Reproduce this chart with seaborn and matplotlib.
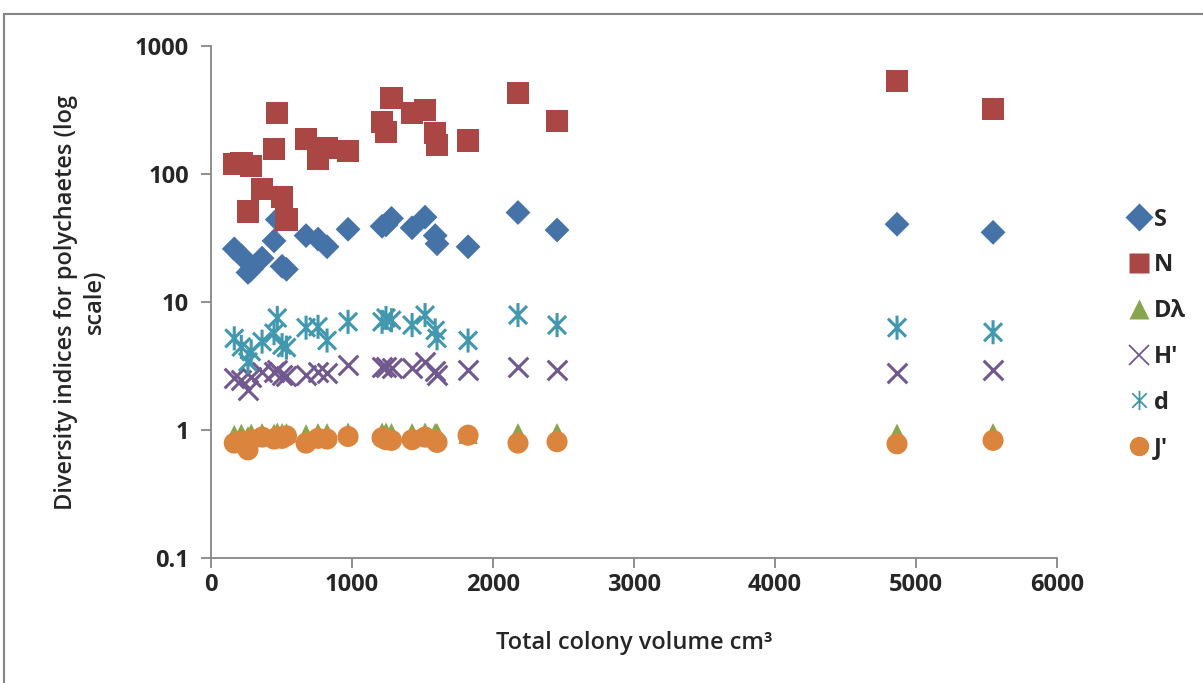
import matplotlib
matplotlib.use("Agg")
import matplotlib.pyplot as plt
from matplotlib.lines import Line2D
from matplotlib.path import Path
import seaborn as sns
import pandas as pd

# Total colony volume (cm3) of each sampled colony
volume = [165, 215, 262, 285, 362, 447, 470, 504, 535, 674, 759, 823, 972,
          1213, 1241, 1280, 1426, 1518, 1590, 1603, 1823, 2177, 2454, 4865, 5546]

# Diversity indices for polychaetes in each colony
S = [26, 23, 17, 18, 22, 30, 44, 19, 18, 33, 31, 27, 37,
     39, 40, 45, 38, 46, 33, 28.5, 27, 50, 36.5, 40.5, 35]
N = [120, 122, 51, 115, 76, 157, 300, 66, 44, 188, 131, 160, 152,
     254, 213, 392, 300, 316, 209, 168, 182, 430, 258, 534, 322]
D_lambda = [0.92, 0.94, 0.90, 0.94, 0.95, 0.94, 0.96, 0.95, 0.95, 0.93, 0.95, 0.95, 0.96,
            0.96, 0.96, 0.95, 0.95, 0.96, 0.95, 0.95, 0.93, 0.95, 0.95, 0.94, 0.95]
H_prime = [2.55, 2.46, 2.05, 2.6, 2.84, 2.84, 2.94, 2.7, 2.65, 2.7, 2.84, 2.8, 3.2,
           3.1, 3.1, 3.05, 3.05, 3.4, 2.9, 2.7, 2.94, 3.1, 2.94, 2.8, 2.94]
d = [5.2, 4.45, 3.4, 4.1, 4.9, 5.7, 7.5, 4.6, 4.4, 6.3, 6.4, 5.0, 7.0,
     7.0, 7.5, 7.2, 6.6, 7.9, 6.0, 5.2, 5.0, 7.9, 6.6, 6.3, 5.8]
J_prime = [0.79, 0.82, 0.70, 0.84, 0.88, 0.85, 0.88, 0.86, 0.90, 0.79, 0.86, 0.85, 0.89,
           0.87, 0.84, 0.83, 0.84, 0.88, 0.83, 0.80, 0.91, 0.79, 0.81, 0.78, 0.83]

series_names = ["S", "N", "Dλ", "H'", "d", "J'"]
x_ticks = [0, 1000, 2000, 3000, 4000, 5000, 6000]
y_ticks = [0.1, 1, 10, 100, 1000]
y_tick_labels = ["0.1", "1", "10", "100", "1000"]

# Asterisk: vertical bar crossed by an X
asterisk = Path(
    [(0, -1), (0, 1), (-0.75, -0.75), (0.75, 0.75), (-0.75, 0.75), (0.75, -0.75)],
    [Path.MOVETO, Path.LINETO, Path.MOVETO, Path.LINETO, Path.MOVETO, Path.LINETO],
)

styles = {
    "S":  dict(color="#4572A7", marker="D", s=160, kind="filled"),
    "N":  dict(color="#AA4643", marker="s", s=260, kind="filled"),
    "Dλ": dict(color="#89A54E", marker="^", s=200, kind="filled"),
    "H'": dict(color="#71588F", marker="x", s=200, kind="line"),
    "d":  dict(color="#4198AF", marker=asterisk, s=300, kind="path"),
    "J'": dict(color="#DB843D", marker="o", s=230, kind="filled"),
}

values = {"S": S, "N": N, "Dλ": D_lambda, "H'": H_prime, "d": d, "J'": J_prime}
frames = [pd.DataFrame({"volume": volume, "value": values[k], "index": k}) for k in series_names]
df = pd.concat(frames, ignore_index=True)

sns.set_style("white")
plt.rcParams["font.family"] = ["Open Sans", "DejaVu Sans"]

fig = plt.figure(figsize=(12.03, 6.83), dpi=100)
ax = fig.add_axes([0.1754, 0.183, 0.7033, 0.7497])

for name in series_names:
    st = styles[name]
    sub = df[df["index"] == name]
    common = dict(data=sub, x="volume", y="value", ax=ax, marker=st["marker"],
                  s=st["s"], legend=False, zorder=3)
    if st["kind"] == "filled":
        sns.scatterplot(color=st["color"], edgecolor="none", **common)
    elif st["kind"] == "line":
        sns.scatterplot(color=st["color"], linewidth=2.2, **common)
    else:
        sns.scatterplot(facecolor="none", edgecolor=st["color"], linewidth=2.2, **common)

ax.set_yscale("log")
ax.set_ylim(0.1, 1000)
ax.set_xlim(0, 6000)
ax.set_xticks(x_ticks)
ax.set_xticklabels([str(t) for t in x_ticks])
ax.set_yticks(y_ticks)
ax.set_yticklabels(y_tick_labels)
ax.yaxis.set_minor_locator(matplotlib.ticker.NullLocator())

for side in ["top", "right"]:
    ax.spines[side].set_visible(False)
for side in ["left", "bottom"]:
    ax.spines[side].set_color("#868686")
    ax.spines[side].set_linewidth(1.3)

ax.tick_params(axis="both", which="major", direction="out", length=7, width=1.3,
               color="#868686", labelsize=17, left=True, bottom=True)
ax.tick_params(axis="x", pad=4)
ax.tick_params(axis="y", pad=9)
for lbl in ax.get_xticklabels() + ax.get_yticklabels():
    lbl.set_fontweight("bold")

ax.set_xlabel("Total colony volume cm³", fontsize=17, fontweight="semibold", labelpad=24)
ax.set_ylabel("Diversity indices for polychaetes (log\nscale)", fontsize=17,
              fontweight="semibold", labelpad=20, linespacing=1.25)

# Legend
handles = []
for name in series_names:
    st = styles[name]
    if st["kind"] == "filled":
        h = Line2D([], [], linestyle="none", marker=st["marker"], markersize=14,
                   markerfacecolor=st["color"], markeredgecolor="none")
    else:
        h = Line2D([], [], linestyle="none", marker=st["marker"], markersize=14,
                   markerfacecolor="none", markeredgecolor=st["color"],
                   markeredgewidth=1.3)
    handles.append(h)
leg = fig.legend(handles, series_names, loc="upper left", bbox_to_anchor=(0.917, 0.727),
                 frameon=False, fontsize=17, handletextpad=0.05, labelspacing=0.92,
                 handlelength=1.2)
for t in leg.get_texts():
    t.set_fontweight("bold")

# Chart-area border (top and left edges)
fig.add_artist(Line2D([4 / 1203, 1.0], [1 - 14 / 683, 1 - 14 / 683],
                      transform=fig.transFigure, color="#868686", linewidth=1.5))
fig.add_artist(Line2D([4 / 1203, 4 / 1203], [0.0, 1 - 14 / 683],
                      transform=fig.transFigure, color="#868686", linewidth=1.5))

fig.savefig("out.png", dpi=100)
